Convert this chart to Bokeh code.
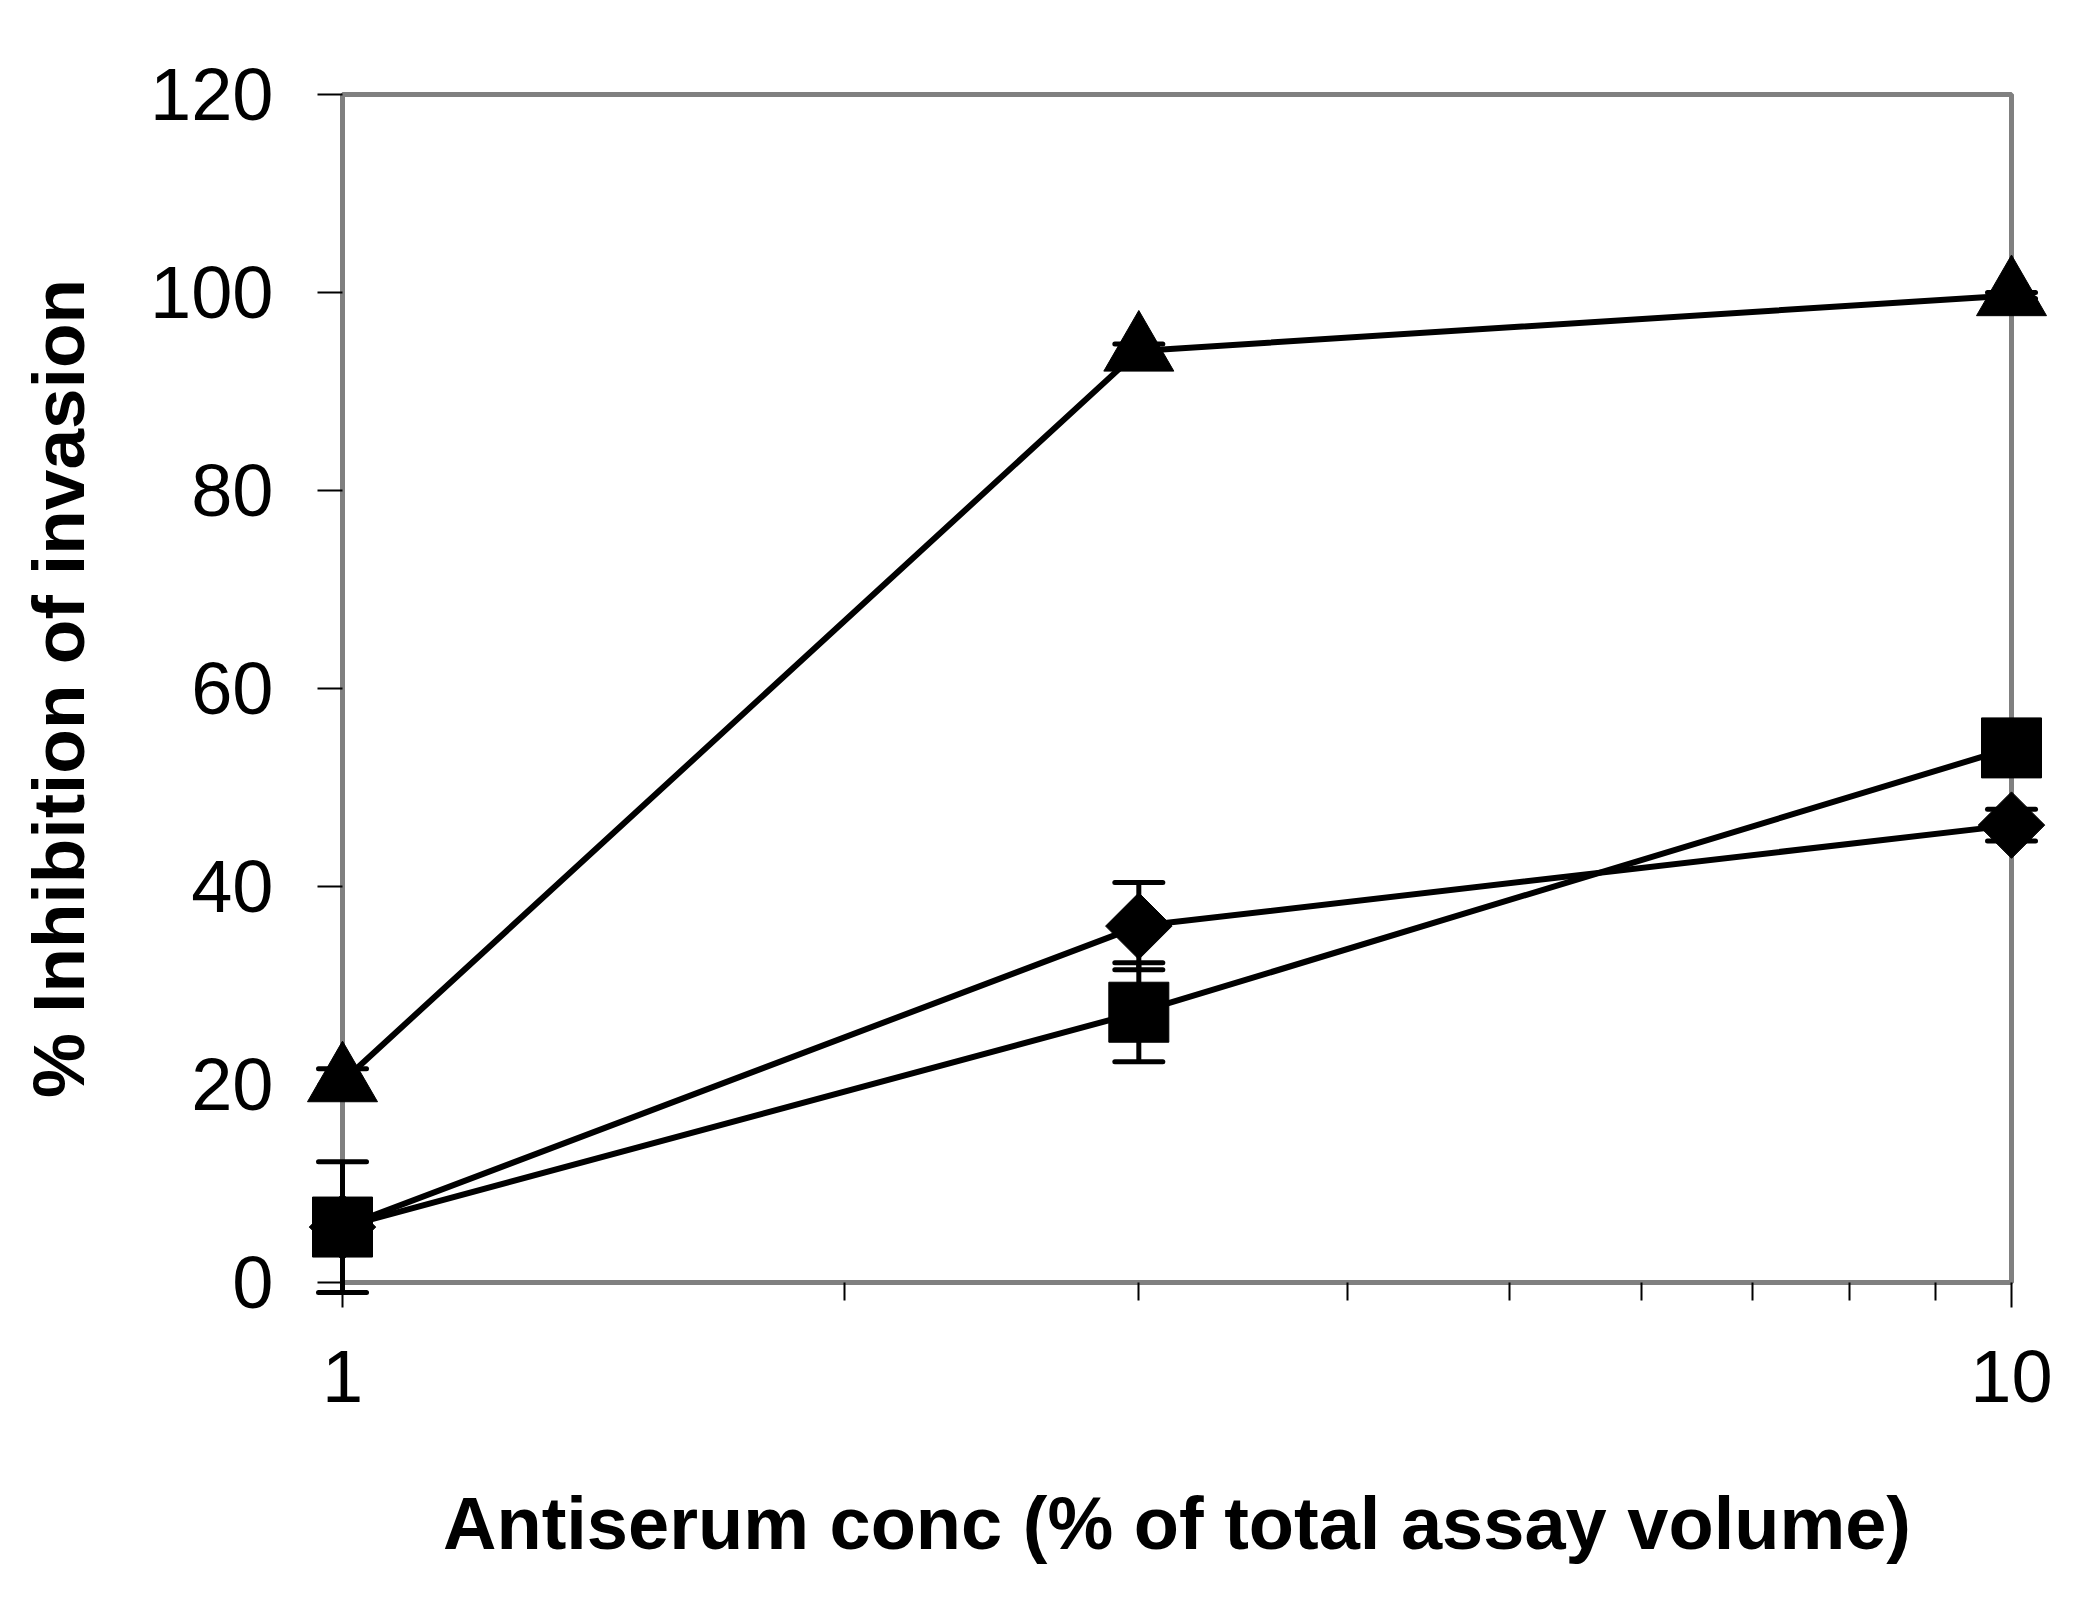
import math
from bokeh.plotting import figure
from bokeh.models import ColumnDataSource, FixedTicker, Range1d
from bokeh.embed import file_html
from bokeh.resources import INLINE

# Data
conc = [1, 3, 10]
triangle_vals = [20.3, 94.1, 99.7]
triangle_err = [1.3, 0.7, 0.3]
diamond_vals = [5.6, 36.0, 46.2]
diamond_err = [1.0, 4.4, 1.6]
square_vals = [5.6, 27.3, 54.0]
square_err = [6.6, 5.0, 0.5]

y_ticks = [0, 20, 40, 60, 80, 100, 120]
x_major_ticks = [1, 10]
x_minor_ticks = [2, 3, 4, 5, 6, 7, 8, 9]
x_tick_labels = {1: "1", 10: "10"}

FONT = "Liberation Sans"

p = figure(
    x_axis_type="log",
    x_range=Range1d(1, 10),
    y_range=Range1d(0, 120),
    frame_width=1669,
    frame_height=1188,
    min_border_left=342,
    min_border_top=94,
    min_border_right=57,
    min_border_bottom=300,
    output_backend="svg",
    toolbar_location=None,
    background_fill_color="white",
    border_fill_color="white",
)

p.xgrid.grid_line_color = None
p.ygrid.grid_line_color = None
p.outline_line_color = "#808080"
p.outline_line_width = 5

# Axes styling
for ax in (p.xaxis[0], p.yaxis[0]):
    ax.axis_line_color = "#808080"
    ax.axis_line_width = 5
    ax.major_tick_line_color = "black"
    ax.major_tick_line_width = 2
    ax.major_tick_out = 25
    ax.major_tick_in = 0
    ax.major_label_text_font = FONT
    ax.major_label_text_font_size = "74px"
    ax.major_label_text_color = "black"
    ax.axis_label_text_font = FONT
    ax.axis_label_text_font_style = "bold"
    ax.axis_label_text_color = "black"

p.yaxis.ticker = FixedTicker(ticks=y_ticks)
p.yaxis.minor_tick_line_color = None
p.yaxis.major_label_standoff = 44
p.yaxis.axis_label = "% Inhibition of invasion"
p.yaxis.axis_label_text_font_size = "73px"
p.yaxis.axis_label_standoff = 48

p.xaxis.ticker = FixedTicker(ticks=x_major_ticks, minor_ticks=x_minor_ticks)
p.xaxis.major_label_overrides = x_tick_labels
p.xaxis.minor_tick_line_color = "black"
p.xaxis.minor_tick_line_width = 2
p.xaxis.minor_tick_out = 18
p.xaxis.minor_tick_in = 0
p.xaxis.major_label_standoff = 43
p.xaxis.axis_label = "Antiserum conc (% of total assay volume)"
p.xaxis.axis_label_text_font_size = "74px"
p.xaxis.axis_label_standoff = 77

series = [
    (triangle_vals, triangle_err, "triangle", 70, 0.0),
    (square_vals, square_err, "square", 60, 0.0),
    (diamond_vals, diamond_err, "square", 47, math.pi / 4),
]

for vals, err, marker, size, angle in series:
    src = ColumnDataSource(dict(
        x=conc,
        y=vals,
        upper=[v + e for v, e in zip(vals, err)],
        lower=[v - e for v, e in zip(vals, err)],
    ))
    p.line("x", "y", source=src, line_color="black", line_width=6, level="overlay")
    # error bars: stems and caps (drawn as glyphs so they are not clipped)
    p.segment(x0="x", y0="lower", x1="x", y1="upper", source=src,
              line_color="black", line_width=5, level="overlay")
    p.scatter("x", "upper", source=src, marker="dash", size=48,
              line_color="black", line_width=5, line_cap="round", level="overlay")
    p.scatter("x", "lower", source=src, marker="dash", size=48,
              line_color="black", line_width=5, line_cap="round", level="overlay")
    p.scatter("x", "y", source=src, marker=marker, size=size, angle=angle,
              fill_color="black", line_color="black", line_width=1, level="overlay")

open("out.html", "w").write(file_html(p, INLINE))
